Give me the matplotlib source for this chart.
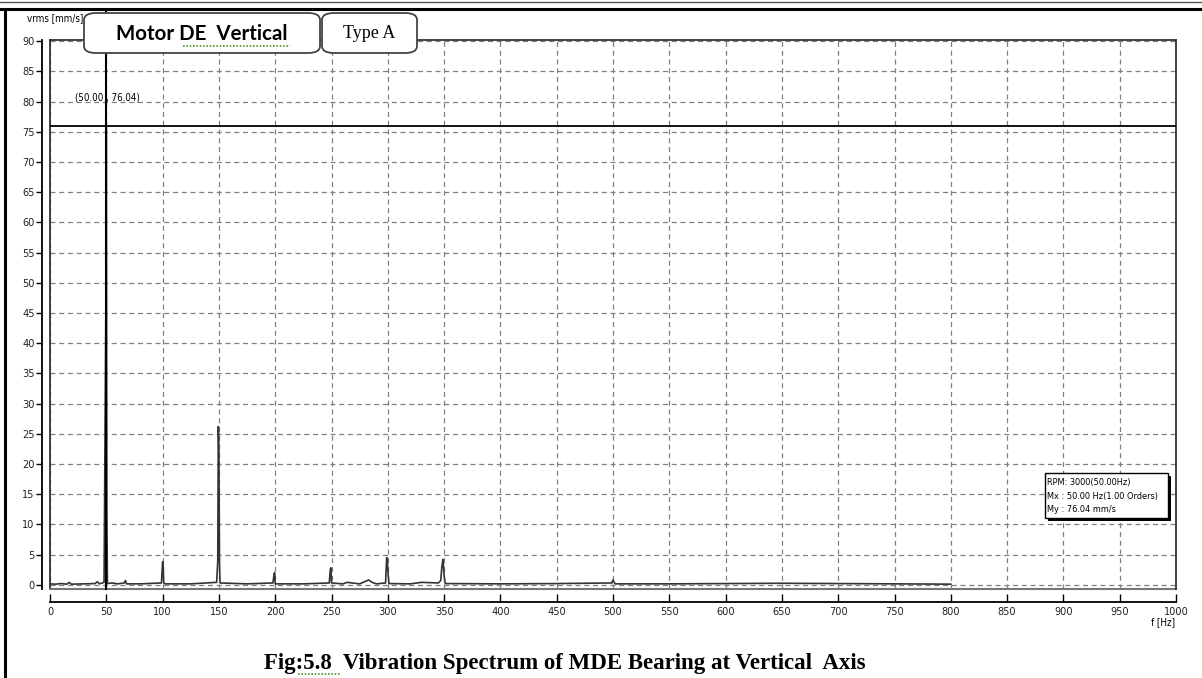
import matplotlib
matplotlib.use('Agg')
import matplotlib.pyplot as plt
from matplotlib.patches import FancyBboxPatch, Rectangle
from matplotlib.lines import Line2D

# spectrum points (Hz, mm/s)
freq = [0, 5, 10, 15, 17, 19, 30, 40, 42, 44, 48, 49.8, 50, 50.5, 51, 55, 60, 66, 67, 68, 80,
        99, 100, 100.5, 101, 102, 125, 148, 149, 149.5, 150, 150.5, 151, 175,
        198, 199, 199.5, 200, 225, 248, 249, 249.5, 250, 260, 264, 275, 283, 286, 290,
        298, 299, 299.5, 300, 301, 320, 330, 345, 347, 348, 349, 350, 351,
        400, 450, 499, 500, 501, 502, 550, 600, 650, 700, 750, 800]
amp = [0.15, 0.1, 0.2, 0.1, 0.4, 0.1, 0.15, 0.2, 0.5, 0.15, 0.4, 50.5, 76.04, 12.0, 0.2, 0.3, 0.15, 0.3, 0.7, 0.15, 0.15,
       0.3, 3.8, 3.0, 0.3, 0.15, 0.15, 0.4, 4.0, 26.2, 21.5, 4.0, 0.3, 0.15,
       0.3, 1.8, 2.0, 0.15, 0.15, 0.3, 2.6, 2.8, 0.3, 0.15, 0.4, 0.15, 0.8, 0.4, 0.15,
       0.3, 4.5, 4.3, 2.5, 0.2, 0.15, 0.4, 0.3, 0.7, 3.0, 4.2, 1.5, 0.2,
       0.15, 0.2, 0.3, 0.8, 0.4, 0.15, 0.15, 0.2, 0.25, 0.2, 0.15, 0.1]

cursor_x = 50.00
cursor_y = 76.04
rpm = 3000
xticks = list(range(0, 1001, 50))
yticks = list(range(0, 91, 5))

narrow = dict(family='DejaVu Sans', stretch='condensed')
W, H = 1202, 678

fig = plt.figure(figsize=(W / 100, H / 100), dpi=100)
ax = fig.add_axes([50 / W, 1 - 589 / H, (1176 - 50) / W, (589 - 40) / H])

ax.plot(freq, amp, color='#333333', lw=1.2, zorder=3)
ax.axhline(cursor_y, color='black', lw=1.3, zorder=4)
ax.axvline(cursor_x, ymin=0, ymax=1.051, color='black', lw=1.5, clip_on=False, zorder=4)

ax.set_xlim(0, 1000)
ax.set_ylim(-0.7, 90.2)
ax.set_xticks(xticks)
ax.set_yticks(yticks)
ax.grid(True, color='#808080', linestyle=(0, (4, 3)), lw=0.9)

for side in ['top', 'right']:
    ax.spines[side].set_color('#222222')
    ax.spines[side].set_linewidth(1.2)
ax.spines['left'].set_position(('outward', 6))
ax.spines['bottom'].set_position(('outward', 9))
ax.spines['left'].set_linewidth(1.3)
ax.spines['bottom'].set_linewidth(1.3)
ax.tick_params(axis='y', direction='out', length=4, width=1, pad=1)
ax.tick_params(axis='x', direction='in', length=6, width=1, pad=4)
for lab in ax.get_xticklabels() + ax.get_yticklabels():
    lab.set_family('DejaVu Sans')
    lab.set_stretch('condensed')
    lab.set_fontsize(7.8)
    lab.set_color('#222222')

# frame lines of the plot area
ax.plot([0, 0], [0, 1], transform=ax.transAxes, color='#333333', lw=1.3, clip_on=False)
ax.plot([0, 1], [0, 0], transform=ax.transAxes, color='#777777', lw=1.5, clip_on=False)

fig.text(27 / W, 1 - 18 / H, 'vrms [mm/s]', fontsize=7, va='center', ha='left', **narrow)
fig.text(1163 / W, 1 - 622 / H, 'f [Hz]', fontsize=7, va='center', ha='center', **narrow)

ax.text(22, 80.6, '(%.2f , %.2f)' % (cursor_x, cursor_y), fontsize=7,
        va='center', ha='left', **narrow)

# marker info box
bx, by, bw, bh = 1045, 473, 123, 45
fig.patches.append(Rectangle(((bx + 3) / W, 1 - (by + bh + 3) / H), bw / W, bh / H,
                             transform=fig.transFigure, facecolor='black', edgecolor='none', zorder=5))
fig.patches.append(Rectangle((bx / W, 1 - (by + bh) / H), bw / W, bh / H,
                             transform=fig.transFigure, facecolor='white', edgecolor='black', lw=1, zorder=6))
info = ['RPM: %d(%.2fHz)' % (rpm, cursor_x),
        'Mx : %.2f Hz(1.00 Orders)' % cursor_x,
        'My : %.2f mm/s' % cursor_y]
for i, s in enumerate(info):
    fig.text((bx + 2) / W, 1 - (by + 10 + i * 13.5) / H, s, fontsize=6.6,
             va='center', ha='left', zorder=7, **narrow)

# header boxes
def header_box(x0, x1, text, **kw):
    p = FancyBboxPatch((x0 / W, 1 - 53 / H), (x1 - x0) / W, 40 / H,
                       boxstyle='round,pad=0,rounding_size=0.01',
                       transform=fig.transFigure, facecolor='white', edgecolor='#444444', lw=1.3, zorder=8)
    fig.patches.append(p)
    fig.text((x0 + x1) / 2 / W, 1 - 34 / H, text, ha='center', va='center', zorder=9, **kw)

header_box(84, 320, 'Motor DE  Vertical', family=['Lato', 'DejaVu Sans'], fontweight='bold', fontsize=14.8)
header_box(322, 417, 'Type A', family=['Liberation Serif', 'DejaVu Serif'], fontsize=13)
fig.lines.append(Line2D([183 / W, 290 / W], [1 - 46 / H, 1 - 46 / H], transform=fig.transFigure,
                        color='#4a9a2a', lw=1.2, linestyle=(0, (1, 1)), zorder=10))

fig.text(565 / W, 1 - 664 / H, 'Fig:5.8  Vibration Spectrum of MDE Bearing at Vertical  Axis',
         family=['Liberation Serif', 'DejaVu Serif'], fontweight='bold', fontsize=16.5,
         ha='center', va='center')
fig.lines.append(Line2D([298 / W, 340 / W], [1 - 674 / H, 1 - 674 / H], transform=fig.transFigure,
                        color='#4a9a2a', lw=1.2, linestyle=(0, (1, 1))))

# page border
fig.lines.append(Line2D([0, 1], [1 - 2 / H, 1 - 2 / H], transform=fig.transFigure, color='#555555', lw=1))
fig.lines.append(Line2D([0, 1], [1 - 8.5 / H, 1 - 8.5 / H], transform=fig.transFigure, color='black', lw=2.2))
fig.lines.append(Line2D([5 / W, 5 / W], [0, 1 - 8.5 / H], transform=fig.transFigure, color='black', lw=2.2))

fig.savefig('out.png', dpi=100)
